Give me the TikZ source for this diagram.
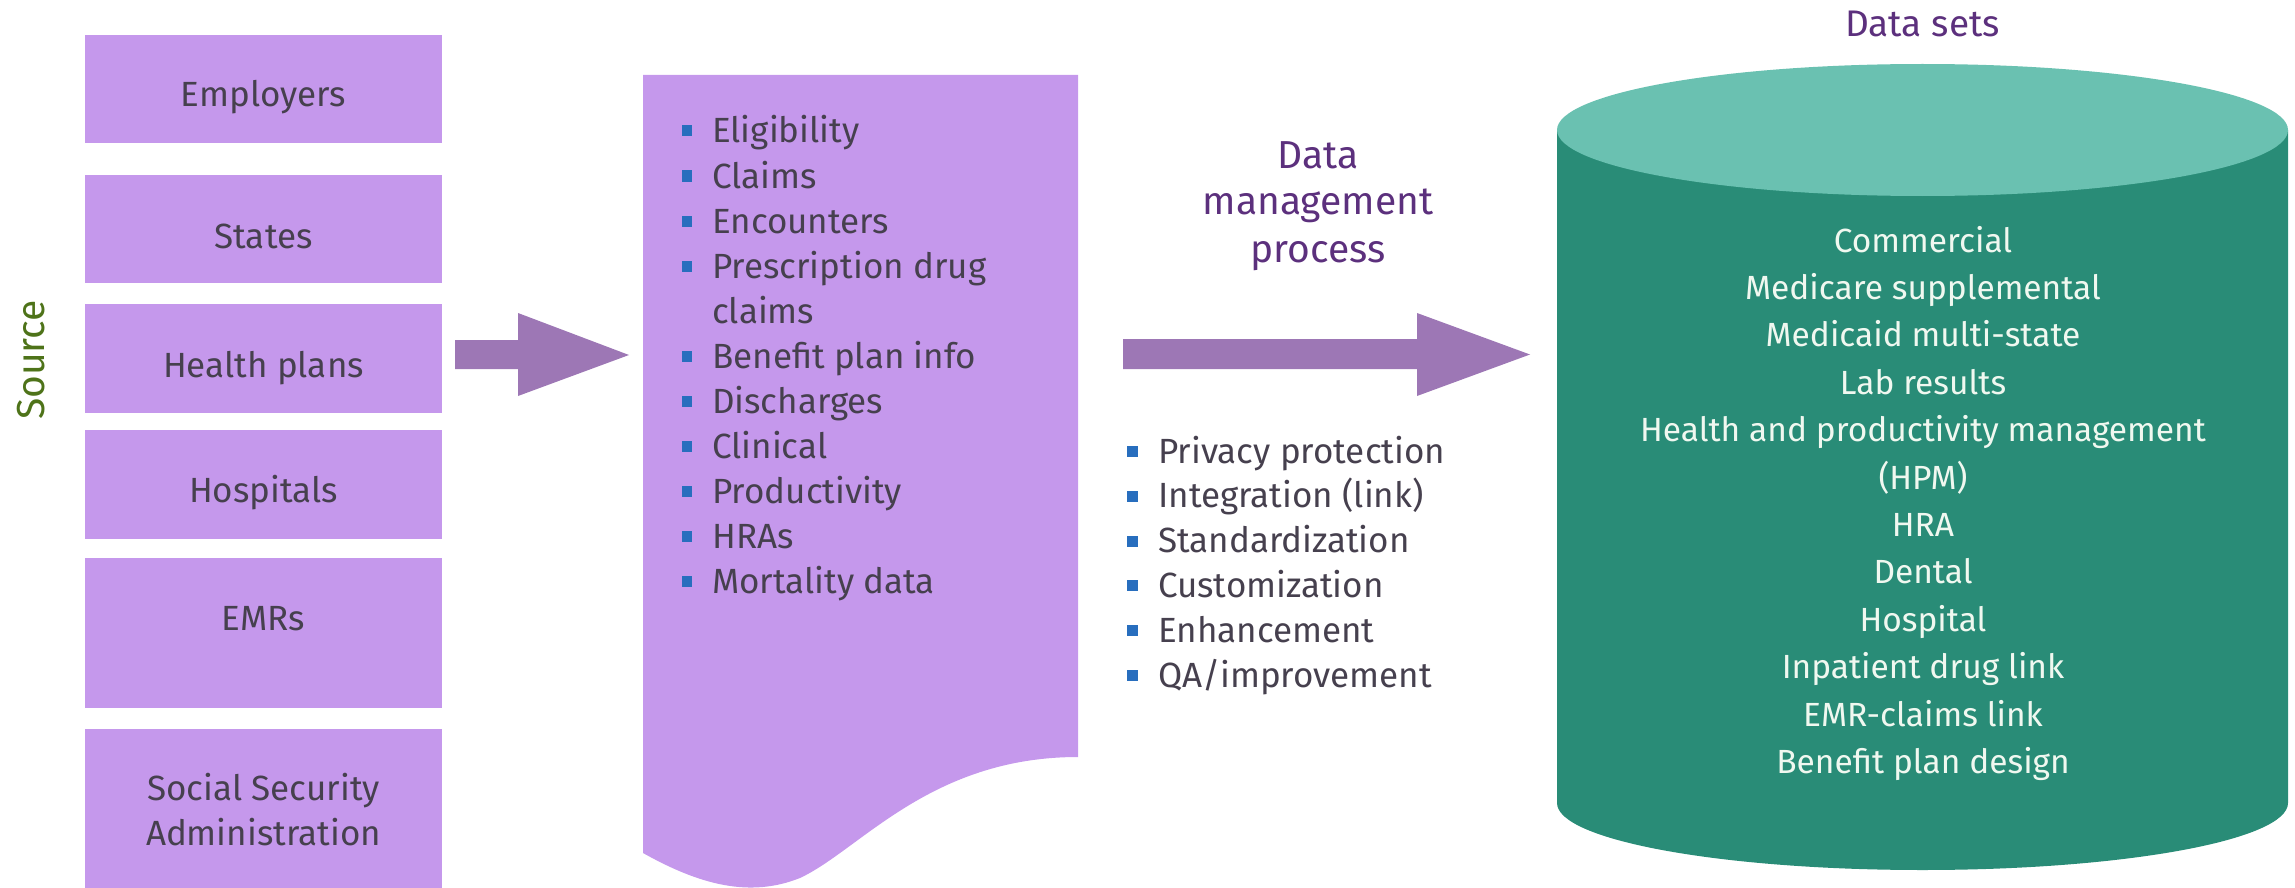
\documentclass[tikz,border=0pt]{standalone}
\usepackage{fontspec}
\setmainfont{Fira Sans}
\definecolor{boxfill}{RGB}{197,152,236}
\definecolor{arrowpurple}{RGB}{157,119,181}
\definecolor{txtgray}{RGB}{70,64,78}
\definecolor{labelpurple}{RGB}{92,48,125}
\definecolor{srcgreen}{RGB}{78,115,25}
\definecolor{bulblue}{RGB}{40,110,190}
\definecolor{cyltop}{RGB}{106,193,177}
\definecolor{cylbody}{RGB}{41,140,119}
\definecolor{cyltext}{RGB}{240,248,240}
\begin{document}
\begin{tikzpicture}[x=1pt,y=-1pt,
  srcbox/.style={fill=boxfill, anchor=north west, inner sep=0pt, minimum width=357pt},
  srctext/.style={anchor=base, text=txtgray, font=\fontsize{35}{45}\selectfont, inner sep=0pt},
  listtext/.style={anchor=base west, text=txtgray, font=\fontsize{35}{45}\selectfont, inner sep=0pt},
  cyltxt/.style={anchor=base, text=cyltext, font=\fontsize{33.5}{47}\selectfont, inner sep=0pt},
  titletext/.style={anchor=base, text=labelpurple, inner sep=0pt}]
\useasboundingbox (0,0) rectangle (2295,888);

% source boxes
\foreach \nm/\tp/\bt in {emp/35/143, sta/175/283, hpl/304/413, hos/430/539, emr/558/708, ssa/729/888}
  \node[srcbox, minimum height={(\bt-\tp)*1pt}] (\nm) at (85,\tp) {};
\node[srctext] (t-emp) at (263.5,107) {Employers};
\node[srctext] (t-sta) at (263.5,248) {States};
\node[srctext] (t-hpl) at (263.5,377) {Health plans};
\node[srctext] (t-hos) at (263.5,502) {Hospitals};
\node[srctext] (t-emr) at (263.5,630) {EMRs};
\node[srctext] (t-ssa1) at (263.5,800) {Social Security};
\node[srctext] (t-ssa2) at (263.5,845) {Administration};

% Source label
\node[rotate=90, text=srcgreen, font=\fontsize{39}{45}\selectfont, inner sep=0pt] (source) at (31,360) {Source};

% small arrow
\fill[arrowpurple] (455,340) -- (518,340) -- (518,313) -- (629,355) -- (518,396) -- (518,369) -- (455,369) -- cycle;

% document-shaped list box
\fill[boxfill] (643,75) -- (1078,75) -- (1078,757)
  .. controls (930,757) and (860,850) .. (800,878)
  .. controls (750,898) and (700,885) .. (643,853) -- cycle;
\foreach \t [count=\i from 0] in {Eligibility, Claims, Encounters, Prescription drug, claims, Benefit plan info, Discharges, Clinical, Productivity, HRAs, Mortality data}
  \node[listtext] (li\i) at (712,143+45*\i) {\t};
\foreach \i in {0,1,2,3,5,6,7,8,9,10}
  \fill[bulblue] (682,143+45*\i-17.5) rectangle (692,143+45*\i-6.5);

% data management process
\node[titletext, font=\fontsize{39}{47}\selectfont] (dm1) at (1318,168) {Data};
\node[titletext, font=\fontsize{39}{47}\selectfont] (dm2) at (1318,214) {management};
\node[titletext, font=\fontsize{39}{47}\selectfont] (dm3) at (1318,262) {process};

% big arrow
\fill[arrowpurple] (1123,339) -- (1417,339) -- (1417,313) -- (1530,354.5) -- (1417,396) -- (1417,369) -- (1123,369) -- cycle;

\foreach \t [count=\i from 0] in {Privacy protection, Integration (link), Standardization, Customization, Enhancement, QA/improvement}{
  \node[listtext] (pr\i) at (1158,463+44.8*\i) {\t};
  \fill[bulblue] (1127,463+44.8*\i-17) rectangle (1138,463+44.8*\i-6);
}

% cylinder
\fill[cylbody] (1557,130) -- (1557,803) arc[start angle=180, end angle=360, x radius=365.5pt, y radius=67pt] -- (2288,130) -- cycle;
\fill[cyltop] (1922.5,130) ellipse[x radius=365.5pt, y radius=66pt];
\node[titletext, font=\fontsize{37}{42}\selectfont] (dsets) at (1922.5,37) {Data sets};
\foreach \t [count=\i from 0] in {Commercial, Medicare supplemental, Medicaid multi-state, Lab results, Health and productivity management, {(HPM)}, HRA, Dental, Hospital, Inpatient drug link, EMR-claims link, Benefit plan design}
  \node[cyltxt] (cy\i) at (1923,252+47.4*\i) {\t};
\end{tikzpicture}
\end{document}
